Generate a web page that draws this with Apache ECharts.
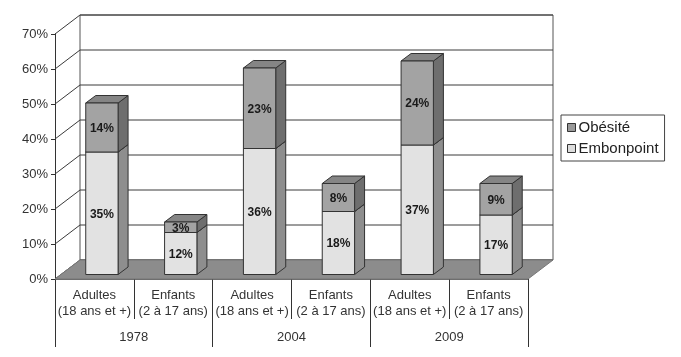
<!DOCTYPE html>
<html>
<head>
<meta charset="utf-8">
<script src="https://cdn.jsdelivr.net/npm/echarts@6/dist/echarts.min.js"></script>
<style>
  html, body { margin: 0; padding: 0; background: #fff; }
  #chart { width: 681px; height: 357px; }
</style>
</head>
<body>
<div id="chart"></div>
<script>
const categories = [
  "Adultes\n(18 ans et +)", "Enfants\n(2 à 17 ans)",
  "Adultes\n(18 ans et +)", "Enfants\n(2 à 17 ans)",
  "Adultes\n(18 ans et +)", "Enfants\n(2 à 17 ans)"
];
const years = ["1978", "2004", "2009"];
const embonpoint = [35, 12, 36, 18, 37, 17];
const obesite = [14, 3, 23, 8, 24, 9];
const yTicks = [0, 10, 20, 30, 40, 50, 60, 70];

// depth of the "3D" box
const DX = 25, DY = -19;

const chart = echarts.init(document.getElementById("chart"));

// back wall, side wall lines and floor
function renderFrame(params, api) {
  const cs = params.coordSys;
  const children = [];
  const bottom = cs.y + cs.height;
  // back wall
  children.push({
    type: "rect",
    shape: { x: cs.x + DX, y: cs.y + DY, width: cs.width, height: cs.height },
    style: { fill: "#fff", stroke: "#555", lineWidth: 1 }
  });
  yTicks.forEach((v) => {
    const y = api.coord([0, v])[1];
    // back wall grid line
    children.push({
      type: "line",
      shape: { x1: cs.x + DX, y1: y + DY, x2: cs.x + cs.width + DX, y2: y + DY },
      style: { stroke: "#3a3a3a", lineWidth: 1 }
    });
    // side wall line
    children.push({
      type: "line",
      shape: { x1: cs.x, y1: y, x2: cs.x + DX, y2: y + DY },
      style: { stroke: "#3a3a3a", lineWidth: 1 }
    });
  });
  // floor
  children.push({
    type: "polygon",
    shape: {
      points: [
        [cs.x, bottom], [cs.x + DX, bottom + DY],
        [cs.x + cs.width + DX, bottom + DY], [cs.x + cs.width, bottom]
      ]
    },
    style: { fill: "#8c8c8c", stroke: "#777", lineWidth: 1 }
  });
  return { type: "group", children: children };
}

function makeBarRenderer(front, side, top) {
  return function (params, api) {
    const i = api.value(0);
    const b = api.coord([i, api.value(1)]);
    const t = api.coord([i, api.value(2)]);
    const band = api.size([1, 0])[0];
    const w = band * 0.41;
    const cx = b[0] + band * 0.095;
    const yb = b[1] - 4.5;
    const yt = t[1] - 4.5;
    const x0 = cx - w / 2, x1 = cx + w / 2;
    const dx = 10, dy = -7.5;
    const stroke = "#333";
    return {
      type: "group",
      children: [
        {
          type: "polygon",
          shape: { points: [[x1, yb], [x1 + dx, yb + dy], [x1 + dx, yt + dy], [x1, yt]] },
          style: { fill: side, stroke: stroke, lineWidth: 1 }
        },
        {
          type: "polygon",
          shape: { points: [[x0, yt], [x0 + dx, yt + dy], [x1 + dx, yt + dy], [x1, yt]] },
          style: { fill: top, stroke: stroke, lineWidth: 1 }
        },
        {
          type: "rect",
          shape: { x: x0, y: yt, width: w, height: yb - yt },
          style: { fill: front, stroke: stroke, lineWidth: 1 }
        },
        {
          type: "text",
          style: {
            text: (api.value(2) - api.value(1)) + "%",
            x: cx, y: (yb + yt) / 2 + 1,
            align: "center", verticalAlign: "middle",
            font: "bold 12px 'Liberation Sans', Arial, sans-serif",
            fill: "#1a1a1a"
          }
        }
      ]
    };
  };
}

chart.setOption({
  backgroundColor: "#fff",
  animation: false,
  grid: { left: 55, right: 153, top: 34, bottom: 78 },
  legend: {
    data: ["Obésité", "Embonpoint"],
    orient: "vertical",
    left: 561,
    top: 115,
    icon: "rect",
    itemWidth: 8,
    itemHeight: 8,
    itemGap: 6,
    itemStyle: { borderColor: "#333", borderWidth: 1 },
    padding: [5, 6, 5, 6],
    borderColor: "#444",
    borderWidth: 1,
    textStyle: { fontFamily: "Liberation Sans", fontSize: 15, color: "#222", padding: [0, 0, 0, -2] }
  },
  xAxis: [
    {
      type: "category",
      data: categories,
      axisLine: { show: true, lineStyle: { color: "#666" } },
      axisTick: { show: true, interval: 0, length: 40, lineStyle: { color: "#333" } },
      axisLabel: {
        interval: 0, margin: 8, fontSize: 13, lineHeight: 16,
        fontFamily: "Liberation Sans", color: "#333"
      },
      splitLine: { show: false }
    },
    {
      type: "category",
      data: years,
      position: "bottom",
      axisLine: { show: false },
      axisTick: { show: true, interval: 0, length: 68, lineStyle: { color: "#333" } },
      axisLabel: {
        interval: 0, margin: 52, fontSize: 13,
        fontFamily: "Liberation Sans", color: "#333"
      },
      splitLine: { show: false }
    }
  ],
  yAxis: {
    type: "value",
    min: 0,
    max: 70,
    interval: 10,
    axisLine: { show: true, lineStyle: { color: "#333" } },
    axisTick: { show: true, length: 4, lineStyle: { color: "#333" } },
    axisLabel: {
      formatter: "{value}%", margin: 7, fontSize: 13,
      fontFamily: "Liberation Sans", color: "#333"
    },
    splitLine: { show: false }
  },
  series: [
    {
      name: "frame",
      type: "custom",
      renderItem: renderFrame,
      data: [[0, 0]],
      silent: true,
      z: 1
    },
    {
      name: "Embonpoint",
      type: "custom",
      renderItem: makeBarRenderer("#e2e2e2", "#8e8e8e", "#b0b0b0"),
      itemStyle: { color: "#dcdcdc", borderColor: "#333", borderWidth: 1 },
      encode: { x: 0, y: 2 },
      data: embonpoint.map((v, i) => [i, 0, v]),
      z: 3
    },
    {
      name: "Obésité",
      type: "custom",
      renderItem: makeBarRenderer("#a3a3a3", "#6e6e6e", "#858585"),
      itemStyle: { color: "#999", borderColor: "#333", borderWidth: 1 },
      encode: { x: 0, y: 2 },
      data: obesite.map((v, i) => [i, embonpoint[i], embonpoint[i] + v]),
      z: 4
    }
  ]
});
</script>
</body>
</html>
